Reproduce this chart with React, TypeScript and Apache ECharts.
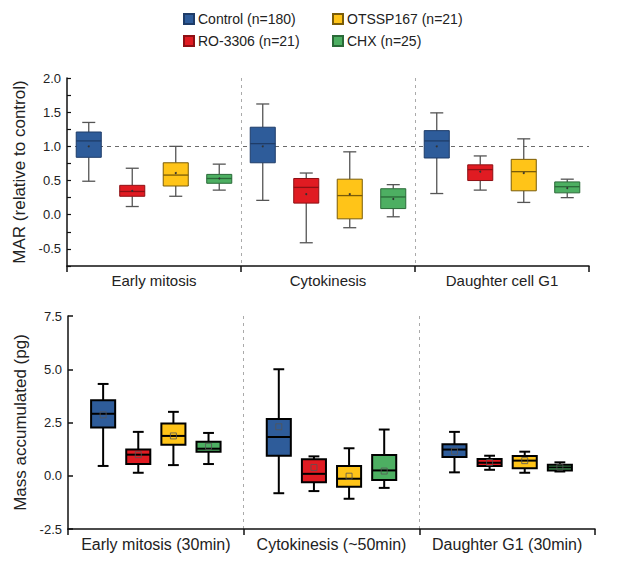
import React, { useEffect, useRef } from "react";
import * as echarts from "echarts";

const groupsTop = ["Early mitosis", "Cytokinesis", "Daughter cell G1"];
const groupsBottom = ["Early mitosis (30min)", "Cytokinesis (~50min)", "Daughter G1 (30min)"];
const treatments = ["Control (n=180)", "RO-3306 (n=21)", "OTSSP167 (n=21)", "CHX (n=25)"];

// each item: [min, Q1, median, Q3, max, mean] per group
const controlMAR = [[0.49, 0.84, 1.08, 1.21, 1.35, 1.0], [0.21, 0.76, 1.04, 1.28, 1.62, 1.0], [0.31, 0.83, 1.08, 1.23, 1.49, 1.0]];
const roMAR = [[0.12, 0.27, 0.34, 0.43, 0.68, 0.35], [-0.41, 0.17, 0.40, 0.53, 0.61, 0.30], [0.36, 0.50, 0.66, 0.73, 0.86, 0.63]];
const otsMAR = [[0.27, 0.42, 0.58, 0.76, 1.0, 0.61], [-0.19, -0.06, 0.28, 0.52, 0.92, 0.30], [0.18, 0.35, 0.63, 0.81, 1.11, 0.61]];
const chxMAR = [[0.36, 0.46, 0.53, 0.59, 0.74, 0.53], [-0.03, 0.09, 0.26, 0.38, 0.44, 0.23], [0.25, 0.32, 0.41, 0.48, 0.52, 0.39]];

const controlMass = [[0.46, 2.26, 2.91, 3.54, 4.31, 2.86], [-0.82, 0.94, 1.82, 2.66, 5.0, 2.30], [0.16, 0.88, 1.23, 1.48, 2.06, 1.15]];
const roMass = [[0.14, 0.55, 0.99, 1.23, 2.06, 0.99], [-0.72, -0.31, 0.09, 0.77, 0.91, 0.39], [0.28, 0.46, 0.61, 0.79, 0.94, 0.62]];
const otsMass = [[0.50, 1.45, 1.87, 2.45, 3.0, 1.87], [-1.08, -0.52, -0.14, 0.46, 1.29, -0.02], [0.14, 0.35, 0.71, 0.93, 1.13, 0.71]];
const chxMass = [[0.55, 1.13, 1.27, 1.60, 2.01, 1.38], [-0.57, -0.20, 0.25, 0.97, 2.17, 0.22], [0.20, 0.25, 0.39, 0.52, 0.63, 0.40]];

const marSets = [controlMAR, roMAR, otsMAR, chxMAR];
const massSets = [controlMass, roMass, otsMass, chxMass];

const fills = ["#2E5C9A", "#E01B22", "#FFC418", "#4DAF62"];
const darks = ["#1E3C68", "#8E1014", "#7A5C08", "#2A6A38"];

const FONT = "'Liberation Sans', Arial, Helvetica, sans-serif";

type Panel = "top" | "bottom";

function makeRender(slot: number, panel: Panel) {
  const spacing = panel === "top" ? 0.25 : 0.2;
  const boxFrac = panel === "top" ? 0.144 : 0.137;
  const capFrac = panel === "top" ? 0.52 : 0.45;
  return (params: any, api: any) => {
    const g = api.value(0);
    const bw = api.size([1, 0])[0];
    const cx = api.coord([g, 0])[0] + (slot - 1.5) * spacing * bw;
    const y = (i: number) => api.coord([g, api.value(i)])[1];
    const yMin = y(1), yQ1 = y(2), yMed = y(3), yQ3 = y(4), yMax = y(5), yMean = y(6);
    const w = boxFrac * bw;
    const cw = capFrac * w;
    const isTop = panel === "top";
    const wStyle = isTop
      ? { stroke: "#555", lineWidth: 1.3 }
      : { stroke: "#000", lineWidth: 2 };
    const boxStyle = isTop
      ? { fill: fills[slot], stroke: darks[slot], lineWidth: 1 }
      : { fill: fills[slot], stroke: "#000", lineWidth: 2 };
    const medStyle = isTop
      ? { stroke: darks[slot], lineWidth: 1.3 }
      : { stroke: "#000", lineWidth: 2 };
    const mean = isTop
      ? { type: "circle", shape: { cx, cy: yMean, r: 1 }, style: { fill: "#333" } }
      : { type: "rect", shape: { x: cx - 3, y: yMean - 3, width: 6, height: 6 }, style: { fill: "none", stroke: "#555", lineWidth: 0.8 } };
    return {
      type: "group",
      children: [
        { type: "line", shape: { x1: cx, y1: yQ3, x2: cx, y2: yMax }, style: wStyle },
        { type: "line", shape: { x1: cx, y1: yQ1, x2: cx, y2: yMin }, style: wStyle },
        { type: "line", shape: { x1: cx - cw / 2, y1: yMax, x2: cx + cw / 2, y2: yMax }, style: wStyle },
        { type: "line", shape: { x1: cx - cw / 2, y1: yMin, x2: cx + cw / 2, y2: yMin }, style: wStyle },
        { type: "rect", shape: { x: cx - w / 2, y: yQ3, width: w, height: yQ1 - yQ3 }, style: boxStyle },
        { type: "line", shape: { x1: cx - w / 2, y1: yMed, x2: cx + w / 2, y2: yMed }, style: medStyle },
        mean,
      ],
    };
  };
}

function buildSeries(sets: number[][][], panel: Panel, idx: number) {
  return sets.map((set, slot) => {
    const s: any = {
      type: "custom",
      name: treatments[slot],
      xAxisIndex: idx,
      yAxisIndex: idx,
      itemStyle: { color: fills[slot], borderColor: darks[slot], borderWidth: 1 },
      renderItem: makeRender(slot, panel),
      encode: { x: 0, y: [1, 2, 3, 4, 5] },
      data: set.map((v, gi) => [gi, ...v]),
      z: 2,
    };
    if (panel === "top" && slot === 0) {
      s.markLine = {
        silent: true,
        symbol: ["none", "none"],
        z: 0,
        label: { show: false },
        lineStyle: { type: [4, 4], color: "#6a6a6a", width: 1.2 },
        data: [{ yAxis: 1 }],
      };
    }
    return s;
  });
}

function xAxisFor(cats: string[], gridIndex: number, fontSize: number): any {
  return {
    type: "category",
    gridIndex,
    data: cats,
    boundaryGap: true,
    axisLine: { show: true, onZero: false, lineStyle: { color: "#111", width: 1.5 } },
    axisTick: { show: true, inside: false, length: 6, lineStyle: { color: "#111", width: 1.5 } },
    axisLabel: { interval: 0, fontSize, color: "#222", margin: 7, fontFamily: FONT },
    splitLine: {
      show: true,
      showMinLine: false,
      showMaxLine: false,
      lineStyle: { type: [3, 4], color: "#aaa", width: 1 },
    },
  };
}

export default function App() {
  const ref = useRef<HTMLDivElement>(null);
  useEffect(() => {
    document.body.style.margin = "0";
    const chart = echarts.init(ref.current!, null, { renderer: "svg" });
    const legendText = { fontSize: 14, color: "#222", fontFamily: FONT, padding: [0, 0, 0, -1] };
    const legendCommon = {
      orient: "vertical",
      top: 7,
      itemWidth: 10,
      itemHeight: 10,
      itemGap: 8,
      icon: "rect",
      selectedMode: false,
      textStyle: legendText,
    };
    chart.setOption({
      animation: false,
      textStyle: { fontFamily: FONT },
      legend: [
        { ...legendCommon, left: 178, data: [treatments[0], treatments[1]] },
        { ...legendCommon, left: 327, data: [treatments[2], treatments[3]] },
      ],
      grid: [
        { left: 67, right: 28, top: 78, bottom: 296 },
        { left: 68, right: 22, top: 316, bottom: 33 },
      ],
      xAxis: [xAxisFor(groupsTop, 0, 15), xAxisFor(groupsBottom, 1, 16)],
      yAxis: [
        {
          type: "value",
          gridIndex: 0,
          min: -0.75,
          max: 2,
          interval: 0.25,
          name: "MAR (relative to control)",
          nameLocation: "middle",
          nameGap: 31,
          nameTextStyle: { fontSize: 17, color: "#222", fontFamily: FONT },
          axisLine: { show: true, onZero: false, lineStyle: { color: "#111", width: 1.5 } },
          axisTick: { show: true, inside: true, length: 4, lineStyle: { color: "#111", width: 1.2 } },
          axisLabel: {
            fontSize: 13,
            color: "#222",
            margin: 6,
            formatter: (v: number) => (Math.abs(v * 2 - Math.round(v * 2)) < 1e-6 ? v.toFixed(1) : ""),
          },
          splitLine: { show: false },
        },
        {
          type: "value",
          gridIndex: 1,
          min: -2.5,
          max: 7.5,
          interval: 2.5,
          name: "Mass accumulated (pg)",
          nameLocation: "middle",
          nameGap: 32,
          nameTextStyle: { fontSize: 17, color: "#222", fontFamily: FONT },
          axisLine: { show: true, onZero: false, lineStyle: { color: "#111", width: 1.5 } },
          axisTick: { show: true, inside: true, length: 5, lineStyle: { color: "#111", width: 1.5 } },
          axisLabel: {
            fontSize: 13,
            color: "#222",
            margin: 6,
            formatter: (v: number) => v.toFixed(1),
          },
          splitLine: { show: false },
        },
      ],
      series: [...buildSeries(marSets, "top", 0), ...buildSeries(massSets, "bottom", 1)],
    });
    return () => chart.dispose();
  }, []);
  return <div ref={ref} style={{ width: 617, height: 562 }} />;
}
